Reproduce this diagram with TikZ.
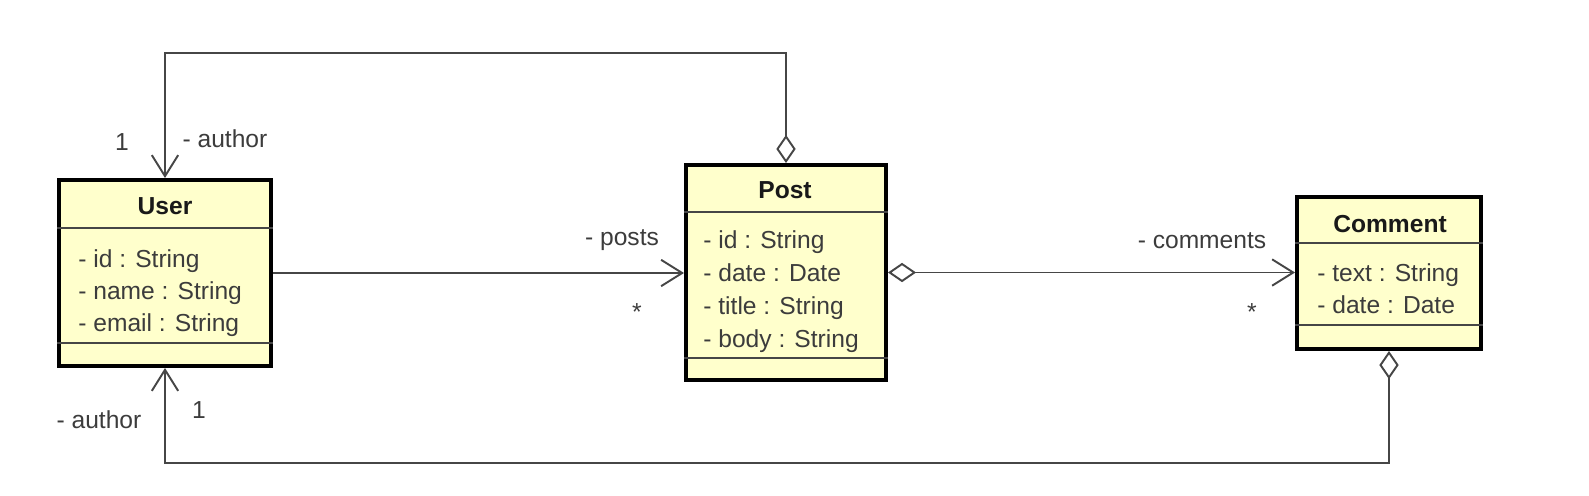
\documentclass[tikz,border=0pt]{standalone}
\usepackage{fontspec}
\setmainfont{Liberation Sans}
\usetikzlibrary{arrows.meta}

\definecolor{umlfill}{RGB}{255,255,204}
\definecolor{txtgray}{RGB}{60,60,60}
\definecolor{linegray}{RGB}{70,70,70}

\tikzset{
  classbox/.style={draw=black, line width=0.08cm, fill=umlfill, inner sep=0pt},
  sepline/.style={draw=linegray, line width=0.9pt},
  classname/.style={font=\fontsize{14}{17}\selectfont\bfseries, text=black!90, inner sep=0pt, anchor=base},
  attr/.style={font=\fontsize{14}{17}\selectfont, text=txtgray, inner sep=0pt, anchor=base west},
  lbl/.style={font=\fontsize{14}{17}\selectfont, text=txtgray, inner sep=0pt, anchor=base},
  assoc/.style={draw=linegray, line width=1.1pt, -{Straight Barb[length=12pt,width=15pt]}},
  agg/.style={draw=linegray, line width=1.1pt,
    {Diamond[open,length=16pt,width=11pt,fill=white]}-{Straight Barb[length=12pt,width=15pt]}}
}

\begin{document}
\begin{tikzpicture}[x=0.02cm,y=-0.02cm]
\useasboundingbox (0,0) rectangle (1589,495);

% classes
\node[classbox, minimum width=4.24cm, minimum height=3.72cm] (user) at (165,273) {};
\node[classbox, minimum width=4.0cm, minimum height=4.3cm] (post) at (786,272.5) {};
\node[classbox, minimum width=3.68cm, minimum height=3.04cm] (comment) at (1389,273) {};

\draw[sepline] (user.west |- 0,228) -- (user.east |- 0,228);
\draw[sepline] (user.west |- 0,343) -- (user.east |- 0,343);
\draw[sepline] (post.west |- 0,212) -- (post.east |- 0,212);
\draw[sepline] (post.west |- 0,358) -- (post.east |- 0,358);
\draw[sepline] (comment.west |- 0,243) -- (comment.east |- 0,243);
\draw[sepline] (comment.west |- 0,325) -- (comment.east |- 0,325);

\node[classname] (usertitle) at (165,214) {User};
\node[classname] (posttitle) at (785,198) {Post};
\node[classname] (commenttitle) at (1390,232) {Comment};

\foreach \txt [count=\i] in {- id : String, - name : String, - email : String}
    \node[attr] (userattr\i) at (78,{267+32*(\i-1)}) {\txt};
\foreach \txt [count=\i] in {- id : String, - date : Date, - title : String, - body : String}
    \node[attr] (postattr\i) at (703,{248+33*(\i-1)}) {\txt};
\foreach \txt [count=\i] in {- text : String, - date : Date}
    \node[attr] (commentattr\i) at (1317,{281+32*(\i-1)}) {\txt};

% associations
\coordinate (topline) at (0,53);
\coordinate (botline) at (0,463);
\draw[assoc] (user.east) -- (user.east -| post.west);
\draw[agg] (post.east) -- (post.east -| comment.west);
\draw[agg] (post.north) -- (post.north |- topline) -| (user.north);
\draw[agg] (comment.south) -- (comment.south |- botline) -| (user.south);

% roles and multiplicities
\node[lbl] (topmult) at (122,150) {1};
\node[lbl] (toprole) at (225,147) {- author};
\node[lbl] (botrole) at (99,428) {- author};
\node[lbl] (botmult) at (199,418) {1};
\node[lbl] (postsrole) at (622,245) {- posts};
\node[lbl, anchor=center] (postsmult) at (637,312) {*};
\node[lbl] (commentsrole) at (1202,248) {- comments};
\node[lbl, anchor=center] (commentsmult) at (1252,312) {*};
\end{tikzpicture}
\end{document}
